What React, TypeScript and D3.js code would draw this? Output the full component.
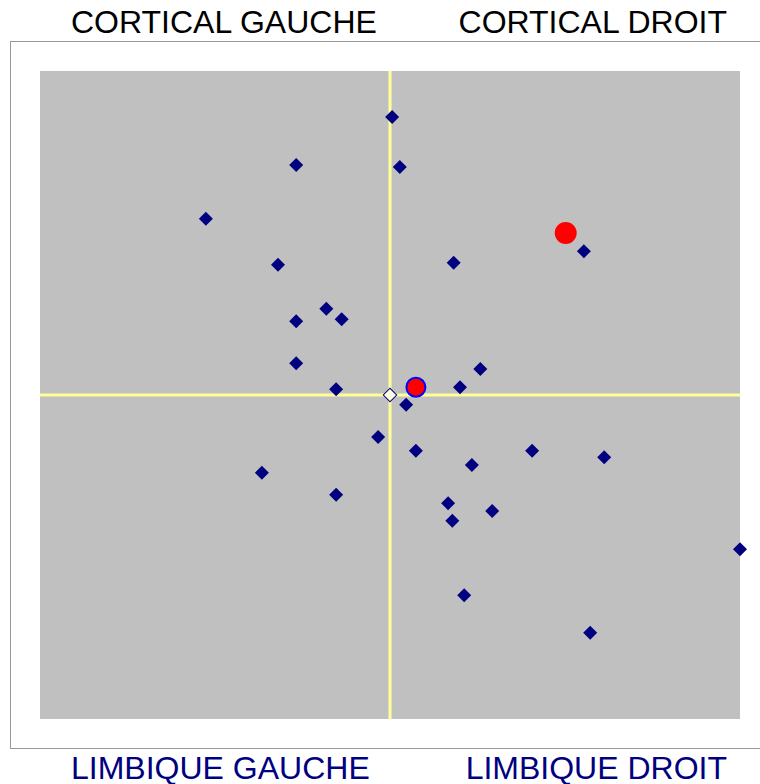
import React, { useEffect, useRef } from "react";
import * as d3 from "d3";

// profile points (x: gauche/droit, y: limbique/cortical)
const pointsX = [0.3, -13.4, 1.4, -26.3, 27.7, -16, 9.1, -9.1, -6.9, -13.4, -13.4, 12.9, -7.7, 10, 2.3, -1.7, 3.7, -18.3, 20.3, 30.6, 11.7, -7.7, 8.3, 8.9, 14.6, 50, 10.6, 28.6];
const pointsY = [42.9, 35.5, 35.2, 27.2, 22.2, 20.1, 20.4, 13.3, 11.7, 11.4, 4.9, 4.0, 0.9, 1.2, -1.5, -6.5, -8.6, -12.0, -8.6, -9.6, -10.8, -15.4, -16.7, -19.4, -17.9, -23.8, -30.9, -36.7];

const meanGroup = { x: 25.1, y: 25.0 };
const meanPerson = { x: 3.7, y: 1.2 };
const origin = { x: 0, y: 0 };

const quadrantLabels = ["CORTICAL GAUCHE", "CORTICAL DROIT", "LIMBIQUE GAUCHE", "LIMBIQUE DROIT"];

const App: React.FC = () => {
  const svgRef = useRef<SVGSVGElement | null>(null);

  useEffect(() => {
    if (!svgRef.current) return;
    const width = 760;
    const height = 784;
    const plot = { left: 40, top: 71, right: 740, bottom: 719 };

    const svg = d3.select(svgRef.current);
    svg.selectAll("*").remove();
    svg.attr("width", width).attr("height", height);

    const x = d3.scaleLinear().domain([-50, 50]).range([plot.left, plot.right]);
    const y = d3.scaleLinear().domain([-50, 50]).range([plot.bottom, plot.top]);

    // outer frame
    svg.append("rect")
      .attr("x", 10.5).attr("y", 41.5)
      .attr("width", 800).attr("height", 707)
      .attr("fill", "#fff")
      .attr("stroke", "#999")
      .attr("stroke-width", 1);

    svg.append("rect")
      .attr("x", plot.left).attr("y", plot.top)
      .attr("width", plot.right - plot.left)
      .attr("height", plot.bottom - plot.top)
      .attr("fill", "#C0C0C0");

    // axes cross
    svg.append("line")
      .attr("x1", x(0)).attr("x2", x(0))
      .attr("y1", plot.top).attr("y2", plot.bottom)
      .attr("stroke", "#FFFF99").attr("stroke-width", 3);
    svg.append("line")
      .attr("x1", plot.left).attr("x2", plot.right)
      .attr("y1", y(0)).attr("y2", y(0))
      .attr("stroke", "#FFFF99").attr("stroke-width", 3);

    const diamond = d3.symbol(d3.symbolSquare, 98)();

    svg.append("g")
      .selectAll("path")
      .data(pointsX.map((v, i) => ({ x: v, y: pointsY[i] })))
      .enter()
      .append("path")
      .attr("d", diamond)
      .attr("transform", (d) => `translate(${x(d.x)},${y(d.y)}) rotate(45)`)
      .attr("fill", "#000080");

    svg.append("path")
      .attr("d", d3.symbol(d3.symbolSquare, 90)())
      .attr("transform", `translate(${x(origin.x)},${y(origin.y)}) rotate(45)`)
      .attr("fill", "#FFFFE0")
      .attr("stroke", "#000080")
      .attr("stroke-width", 1);

    svg.append("circle")
      .attr("cx", x(meanGroup.x)).attr("cy", y(meanGroup.y))
      .attr("r", 11)
      .attr("fill", "#FF0000");

    svg.append("circle")
      .attr("cx", x(meanPerson.x)).attr("cy", y(meanPerson.y))
      .attr("r", 9.5)
      .attr("fill", "#FF0000")
      .attr("stroke", "#0000FF")
      .attr("stroke-width", 2);

    const labels = [
      { t: quadrantLabels[0], x: 71, y: 33, anchor: "start", c: "#000" },
      { t: quadrantLabels[1], x: 727, y: 33, anchor: "end", c: "#000" },
      { t: quadrantLabels[2], x: 71, y: 779, anchor: "start", c: "#000080" },
      { t: quadrantLabels[3], x: 727, y: 779, anchor: "end", c: "#000080" },
    ];
    svg.append("g")
      .selectAll("text")
      .data(labels)
      .enter()
      .append("text")
      .attr("x", (d) => d.x)
      .attr("y", (d) => d.y)
      .attr("text-anchor", (d) => d.anchor)
      .attr("fill", (d) => d.c)
      .style("font-family", "'Liberation Sans', Arial, sans-serif")
      .style("font-size", "32px")
      .text((d) => d.t);
  }, []);

  return <svg ref={svgRef} style={{ position: "absolute", left: 0, top: 0 }}></svg>;
};

export default App;
